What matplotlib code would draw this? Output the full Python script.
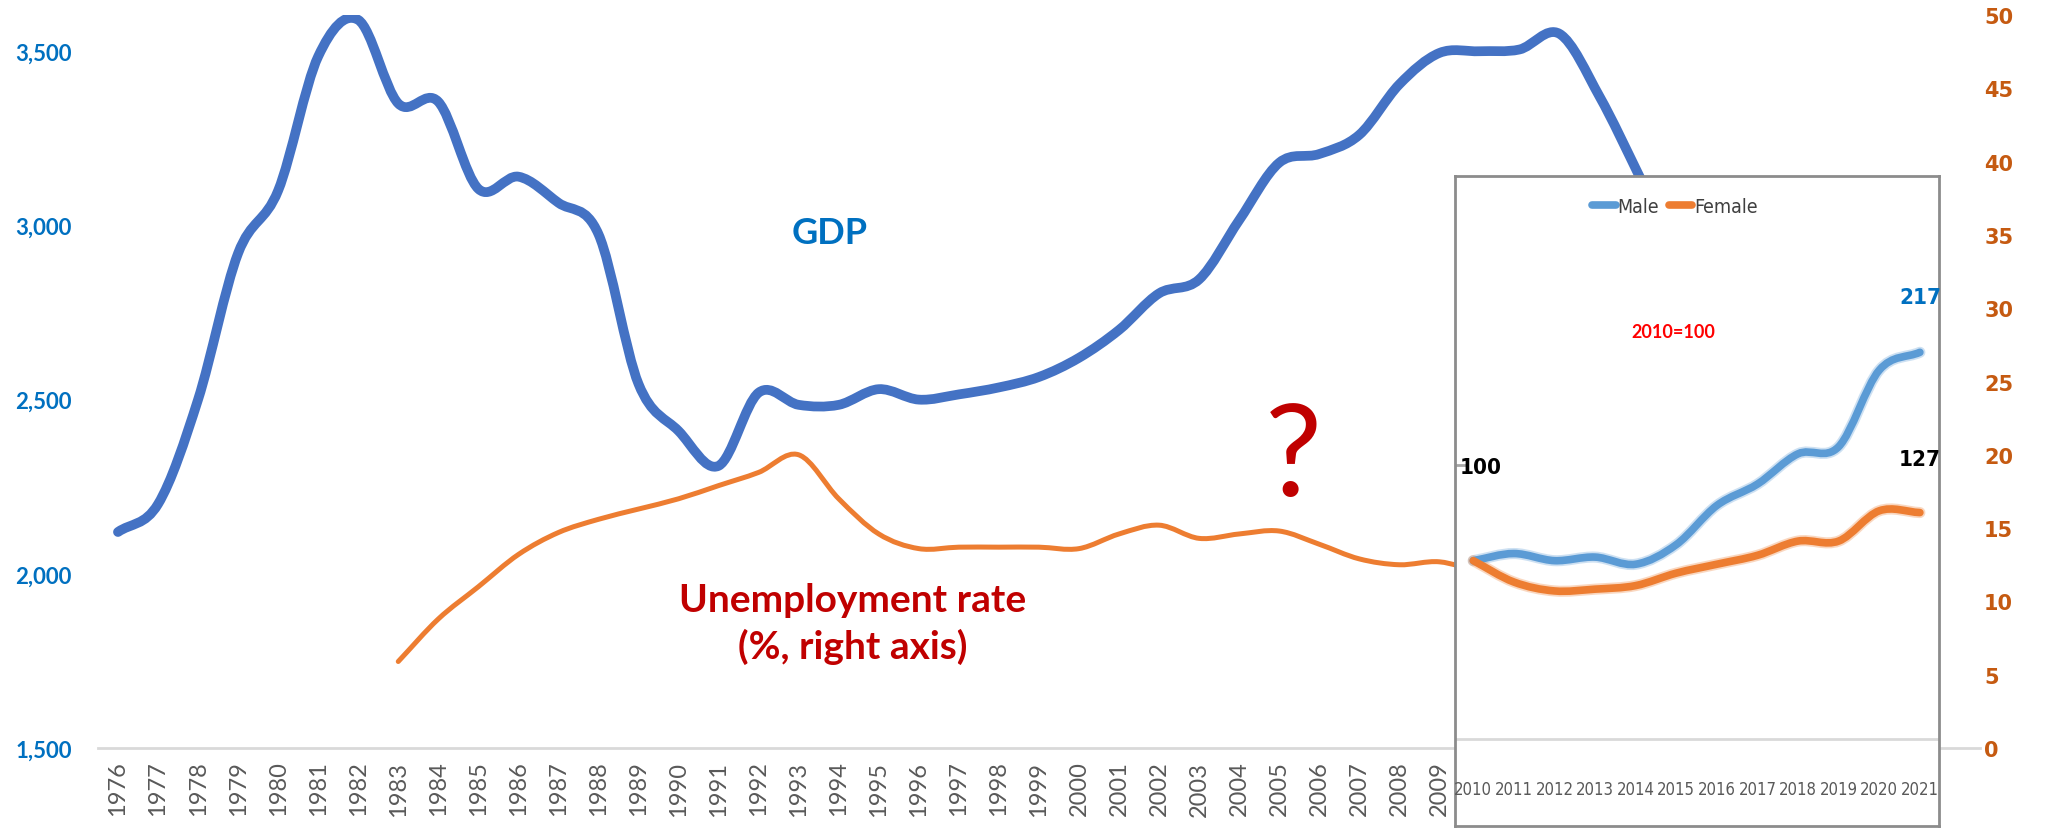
import numpy as np
import matplotlib.pyplot as plt
from matplotlib.path import Path
from matplotlib.patches import PathPatch

plt.rcParams['font.family'] = ['Lato', 'DejaVu Sans']

# ---- main chart data ----
years = list(range(1976, 2023))
year_labels = [str(y) for y in range(1976, 2010)]

gdp_years = list(range(1976, 2016))
gdp = [2120, 2200, 2500, 2920, 3100, 3485, 3590, 3350, 3355, 3105,
       3140, 3065, 2975, 2545, 2410, 2310, 2520, 2485, 2485, 2530,
       2500, 2515, 2535, 2565, 2620, 2700, 2805, 2845, 3015, 3180,
       3205, 3260, 3405, 3495, 3500, 3505, 3550, 3370, 3140, 2900]

unemp_years = list(range(1983, 2011))
unemp = [5.9, 8.8, 11.0, 13.2, 14.7, 15.6, 16.3, 17.0, 17.9, 18.8,
         20.0, 17.0, 14.6, 13.6, 13.7, 13.7, 13.7, 13.6, 14.6, 15.2,
         14.3, 14.6, 14.8, 13.9, 12.9, 12.5, 12.7, 12.0]

# ---- inset data (2010=100) ----
inset_years = list(range(2010, 2022))
male = [100, 104, 100, 102, 98, 109, 131, 143, 160, 164, 207, 217]
female = [100, 88, 83, 84, 86, 93, 98, 103, 111, 111, 128, 127]

BLUE = '#4472C4'
ORANGE = '#ED7D31'
LABEL_BLUE = '#0070C0'
RIGHT_BROWN = '#C55A11'
DARK_RED = '#C00000'
NARROW = dict(family='DejaVu Sans', stretch='condensed')


def smooth_path(xs, ys):
    # cubic bezier through every point (Excel style smoothed line)
    p = np.column_stack([xs, ys]).astype(float)
    n = len(p)
    t = np.zeros_like(p)
    t[1:-1] = (p[2:] - p[:-2]) / 2
    t[0] = p[1] - p[0]
    t[-1] = p[-1] - p[-2]
    verts = [p[0]]
    codes = [Path.MOVETO]
    for i in range(n - 1):
        verts += [p[i] + t[i] / 3, p[i + 1] - t[i + 1] / 3, p[i + 1]]
        codes += [Path.CURVE4] * 3
    return Path(verts, codes)


def idx(yrs):
    return [years.index(y) for y in yrs]


fig = plt.figure(figsize=(20.49, 8.29), dpi=100)
ax = fig.add_axes([0.0478, 0.0965, 0.9185, 0.8842])
ax2 = ax.twinx()

ax.set_xlim(-0.5, len(years) - 0.5)
ax.set_ylim(1500, 3604)
ax2.set_ylim(0, 50)

ax.add_patch(PathPatch(smooth_path(idx(gdp_years), gdp), fill=False,
                       edgecolor=BLUE, lw=7, capstyle='round',
                       joinstyle='round', zorder=3))
ax2.add_patch(PathPatch(smooth_path(idx(unemp_years), unemp), fill=False,
                        edgecolor=ORANGE, lw=3.6, capstyle='round',
                        joinstyle='round', zorder=3))

ax.axhline(1500, color='#D9D9D9', lw=2, clip_on=False, zorder=1)

for a in (ax, ax2):
    for s in a.spines.values():
        s.set_visible(False)

ax.set_xticks(range(len(year_labels)))
ax.set_xticklabels(year_labels, rotation=90, fontsize=17, color='#595959')
ax.set_yticks([1500, 2000, 2500, 3000, 3500])
ax.set_yticklabels(['1,500', '2,000', '2,500', '3,000', '3,500'],
                   fontsize=16, fontweight='bold', color=LABEL_BLUE)
ax.tick_params(axis='x', length=0, pad=9)
ax.tick_params(axis='y', length=0, pad=19)

ax2.set_yticks(range(0, 51, 5))
ax2.set_yticklabels([str(v) for v in range(0, 51, 5)], fontsize=15,
                    fontweight='bold', color=RIGHT_BROWN,
                    family=['DejaVu Sans'])
ax2.tick_params(axis='y', length=0, pad=3)

ax.text(0.389, 0.703, 'GDP', transform=ax.transAxes, ha='center',
        va='center', fontsize=26, fontweight='bold', color=LABEL_BLUE)
ax.text(0.401, 0.1705, 'Unemployment rate\n(%, right axis)',
        transform=ax.transAxes, ha='center', va='center', fontsize=28,
        fontweight='bold', color=DARK_RED, linespacing=1.35)
ax.text(0.635, 0.394, '?', transform=ax.transAxes, ha='center',
        va='center', fontsize=92, color=DARK_RED)

# ---- inset: employment index by sex ----
ax_in = fig.add_axes([0.7101, 0.0024, 0.2362, 0.7841], zorder=5)
ax_in.set_facecolor('white')
ax_in.set_xlim(2009.55, 2021.47)
ax_in.set_ylim(-49, 316)
ax_in.axhline(0, color='#D9D9D9', lw=2, zorder=1)

for vals, col, name in ((male, '#5B9BD5', 'Male'), (female, ORANGE, 'Female')):
    ax_in.add_patch(PathPatch(smooth_path(inset_years, vals), fill=False,
                              edgecolor=col, lw=8, alpha=0.3,
                              capstyle='round', zorder=2))
    ax_in.add_patch(PathPatch(smooth_path(inset_years, vals), fill=False,
                              edgecolor=col, lw=5.5, capstyle='round',
                              zorder=3))
    ax_in.plot([], [], color=col, lw=5.5, solid_capstyle='round', label=name)

leg = ax_in.legend(loc='upper center', bbox_to_anchor=(0.455, 0.995), ncol=2,
                   frameon=False, handlelength=1.2, handletextpad=0.1,
                   columnspacing=0.5, prop=dict(size=14, **NARROW))
for t in leg.get_texts():
    t.set_color('#404040')

# year labels sit inside the framed box, under the zero line
ax_in.set_xticks([])
ax_in.set_yticks([])
for y in inset_years:
    ax_in.text(y, -28, str(y), ha='center', va='center', fontsize=12,
               color='#595959', **NARROW)
for s in ax_in.spines.values():
    s.set_color('#8C8C8C')
    s.set_linewidth(2)

ax_in.text(0.452, 0.760, '2010=100', transform=ax_in.transAxes, ha='center',
           va='center', fontsize=13, fontweight='bold', color='#FF0000')
ax_in.text(2021, 248, '217', ha='center', va='center', fontsize=16,
           fontweight='bold', color=LABEL_BLUE, **NARROW)
ax_in.text(2021, 157, '127', ha='center', va='center', fontsize=16,
           fontweight='bold', color='black', **NARROW)
ax_in.plot([0.004, 0.021], [0.555, 0.555], color='#A6A6A6', lw=2,
           transform=ax_in.transAxes)
ax_in.text(0.054, 0.552, '100', transform=ax_in.transAxes, ha='center',
           va='center', fontsize=16, fontweight='bold', color='black',
           **NARROW)

fig.savefig('out.png', dpi=100, facecolor='white')
